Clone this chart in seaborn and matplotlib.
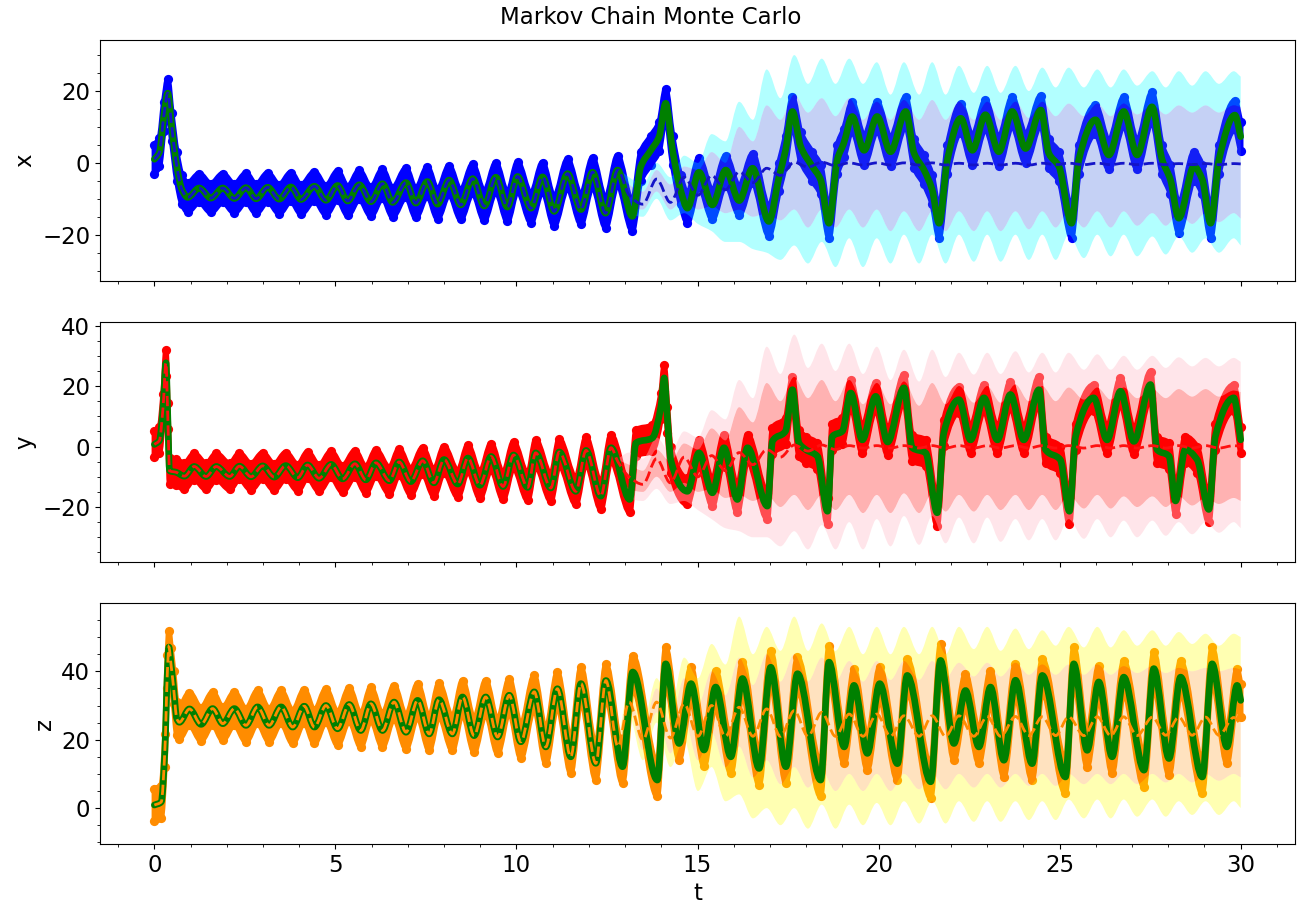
import numpy as np
import matplotlib
matplotlib.use("Agg")
import matplotlib.pyplot as plt
from matplotlib.path import Path
from matplotlib.patches import PathPatch
from matplotlib.ticker import MultipleLocator
import seaborn as sns

# ---------------------------------------------------------------------------
# True trajectory (turning points of each component)
# ---------------------------------------------------------------------------
t_x = [0.0, 0.14, 0.26, 0.37, 0.48, 0.62, 0.76, 0.92, 1.24, 1.56, 1.89, 2.21,
       2.53, 2.81, 3.13, 3.45, 3.77, 4.05, 4.42, 4.74, 5.06, 5.34, 5.66, 5.98,
       6.30, 6.58, 6.95, 7.22, 7.54, 7.82, 8.14, 8.46, 8.79, 9.11, 9.43, 9.75,
       10.03, 10.40, 10.72, 11.04, 11.41, 11.78, 12.10, 12.46, 12.79, 13.20,
       13.43, 13.71, 13.94, 14.12, 14.31, 14.53, 14.72, 15.04, 15.41, 15.78,
       16.15, 16.52, 16.97, 17.25, 17.43, 17.62, 17.85, 18.17, 18.40, 18.63,
       18.86, 19.04, 19.27, 19.60, 19.96, 20.33, 20.75, 20.98, 21.25, 21.48,
       21.67, 21.90, 22.27, 22.59, 22.95, 23.32, 23.69, 24.06, 24.48, 24.70,
       24.98, 25.33, 25.53, 25.99, 26.36, 26.77, 27.14, 27.55, 27.83, 28.06,
       28.29, 28.71, 28.94, 29.17, 29.40, 29.84, 30.0]
x_true = [1.0, 3.0, 13.0, 19.4, 10.0, -1.0, -7.4, -9.6, -7.0, -9.8, -7.0, -9.9,
          -6.9, -10.0, -6.8, -10.1, -6.7, -10.2, -6.5, -10.4, -6.3, -10.6, -6.1,
          -10.8, -5.8, -11.0, -5.5, -11.2, -5.2, -11.5, -4.8, -11.7, -4.4, -12.0,
          -4.0, -12.3, -3.8, -12.6, -3.9, -13.5, -3.0, -13.0, -2.6, -14.0, -2.0,
          -14.9, -1.1, 3.5, 7.3, 16.6, 3.5, -7.5, -12.6, -2.6, -11.7, -2.0, -10.5,
          -1.5, -16.3, -3.9, 3.5, 14.3, 4.5, -1.0, -4.7, -16.8, 0.9, 5.5, 12.9,
          3.5, 12.9, 3.1, 14.3, 2.7, -1.9, -7.5, -16.8, 0.9, 12.4, 3.5, 13.4, 3.1,
          14.3, 4.0, 14.7, 2.7, -1.0, -16.8, 0.9, 12.0, 2.2, 14.3, 2.2, 15.6, 0.9,
          -4.7, -15.4, -1.0, -4.7, -16.8, 0.9, 13.3, 7.3]

t_y = [0.0, 0.14, 0.24, 0.32, 0.37, 0.42, 0.60, 0.83, 1.10, 1.43, 1.71, 2.08,
       2.35, 2.67, 2.99, 3.31, 3.63, 3.96, 4.23, 4.55, 4.88, 5.20, 5.54, 5.84,
       6.12, 6.49, 6.76, 7.08, 7.41, 7.72, 8.00, 8.38, 8.66, 8.99, 9.30, 9.63,
       9.92, 10.31, 10.53, 10.95, 11.18, 11.64, 11.92, 12.33, 12.61, 13.13,
       13.30, 13.75, 13.99, 14.08, 14.17, 14.26, 14.72, 15.04, 15.41, 15.73,
       16.10, 16.38, 16.93, 17.07, 17.43, 17.62, 17.80, 17.99, 18.31, 18.59,
       18.72, 19.00, 19.23, 19.55, 19.92, 20.25, 20.70, 20.93, 21.30, 21.62,
       21.80, 22.22, 22.54, 22.91, 23.28, 23.64, 24.01, 24.43, 24.61, 25.02,
       25.27, 25.44, 25.94, 26.31, 26.68, 27.05, 27.51, 27.69, 28.02, 28.20,
       28.47, 28.80, 29.12, 29.30, 29.81, 30.0]
y_true = [0.7, 2.0, 13.0, 27.7, 10.0, -8.0, -8.5, -9.8, -6.6, -9.9, -6.6, -9.9,
          -6.5, -10.0, -6.4, -10.1, -6.3, -10.3, -6.1, -10.5, -5.9, -10.7, -5.7,
          -11.0, -5.4, -11.3, -5.1, -11.6, -4.7, -12.0, -4.3, -12.4, -3.8, -12.8,
          -3.3, -13.2, -2.8, -13.5, -2.1, -13.7, -1.8, -14.8, -1.3, -16.4, -0.4,
          -17.5, 1.2, 2.8, 13.3, 22.7, 8.9, -4.4, -14.8, -2.1, -15.3, -0.4, -17.5,
          -0.4, -19.7, 1.8, 5.1, 18.8, 1.2, -1.0, -3.2, -21.4, 3.3, 5.1, 17.7,
          2.2, 16.6, 1.5, 19.4, -0.4, -2.1, -21.9, 4.4, 15.5, 2.2, 16.1, 2.2,
          17.2, 2.2, 18.8, -1.0, -4.4, -21.4, 3.3, 16.1, 2.2, 18.3, 1.7, 20.5,
          -1.0, -3.2, -18.0, -1.0, -4.4, -20.8, 3.3, 16.1, 2.2]

t_z = [0.0, 0.19, 0.29, 0.36, 0.40, 0.46, 0.53, 0.62, 0.69, 0.97, 1.29, 1.61,
       1.89, 2.21, 2.53, 2.85, 3.17, 3.50, 3.82, 4.14, 4.42, 4.74, 5.06, 5.38,
       5.70, 5.98, 6.30, 6.62, 6.95, 7.27, 7.59, 7.86, 8.23, 8.51, 8.83, 9.15,
       9.48, 9.80, 10.12, 10.49, 10.81, 11.13, 11.50, 11.78, 12.19, 12.47,
       12.93, 13.21, 13.89, 14.12, 14.49, 14.82, 15.18, 15.50, 15.92, 16.24,
       16.70, 17.02, 17.44, 17.76, 18.40, 18.63, 19.05, 19.32, 19.69, 20.03,
       20.52, 20.79, 21.44, 21.71, 22.08, 22.40, 22.77, 23.09, 23.46, 23.78,
       24.24, 24.52, 25.16, 25.39, 25.76, 26.08, 26.45, 26.77, 27.33, 27.60,
       28.02, 28.34, 28.94, 29.21, 29.62, 29.90, 30.0]
z_true = [0.9, 1.8, 16.9, 40.0, 47.1, 42.0, 35.3, 26.1, 25.1, 29.0, 24.5, 29.1,
          24.7, 29.1, 24.2, 29.6, 24.2, 29.6, 23.7, 29.8, 23.7, 30.0, 23.2, 30.3,
          22.7, 30.5, 22.7, 31.0, 22.2, 31.5, 21.7, 31.7, 21.7, 32.5, 21.2, 32.5,
          20.8, 33.0, 19.4, 34.0, 17.9, 34.9, 15.0, 36.4, 13.1, 37.3, 12.1, 39.8,
          8.2, 42.2, 18.9, 36.4, 17.0, 35.4, 15.0, 37.9, 11.6, 41.2, 12.1, 39.3,
          8.2, 42.7, 17.9, 35.9, 16.0, 36.4, 13.0, 38.8, 7.7, 43.2, 18.9, 34.4,
          17.9, 35.4, 14.0, 37.4, 13.0, 38.8, 9.1, 42.2, 16.9, 36.9, 15.0, 38.3,
          11.1, 40.8, 14.5, 38.3, 9.1, 42.2, 17.9, 35.9, 31.5]

# Spread of the noisy observations around the true path
obs_halfwidth_x = 4.0
obs_halfwidth_y = 4.3
obs_halfwidth_z = 4.8

# ---------------------------------------------------------------------------
# Posterior forecast: mean and credible bands after the assimilation window
# ---------------------------------------------------------------------------
t_split = 12.75
t_band = [12.80, 13.11, 13.49, 13.87, 14.25, 14.63, 15.01, 15.39, 15.77, 16.15,
          16.53, 16.91, 17.29, 17.67, 18.05, 18.43, 18.81, 19.19, 19.57, 19.95,
          20.33, 20.70, 21.12, 21.48, 21.85, 22.22, 22.63, 23.00, 23.37, 23.78,
          24.15, 24.52, 24.89, 25.25, 25.67, 26.04, 26.41, 26.77, 27.14, 27.56,
          27.93, 28.29, 28.66, 29.03, 29.40, 29.81, 30.00]

x_mean = [-2.0, -9.0, -11.5, -4.5, -11.0, -4.0, -9.0, -3.5, -7.5, -2.5, -5.5,
          -1.5, -3.5, 0.2, -1.2, 0.2, -0.8, 0.0, -0.6, 0.0, -0.6, 0.0, -0.6,
          0.0, -0.6, -0.1, -0.6, -0.1, -0.6, -0.1, -0.6, -0.1, -0.5, -0.1, -0.5,
          -0.1, -0.5, -0.1, -0.5, -0.1, -0.5, -0.2, -0.5, -0.2, -0.5, -0.2, -0.3]
x_outer_hi = [-1.5, -4, -6, 0, -4, 2, 0, 8, 6, 17, 12, 26, 18, 30, 22, 29, 22,
              29, 22, 28, 19, 28, 19, 28, 19, 27, 19.5, 27, 19.5, 27, 20, 26.5,
              21, 26.5, 21, 26, 21, 26, 21.5, 25.5, 21, 25.5, 21.5, 25.5, 22,
              25.5, 24]
x_inner_hi = [-1.8, -6, -8, -2, -6, -1, -2, 3, 0, 10, 6, 16, 12, 19, 14, 18, 13,
              18, 12, 17, 12, 17.5, 12, 17.5, 12, 17, 12, 17, 12, 17, 12.5, 17,
              13, 16.5, 13, 16.5, 13, 16.5, 13.5, 16, 13.5, 16, 14, 16, 14, 16,
              15.5]
x_inner_lo = [-2.5, -12, -13, -8, -13, -10, -13, -12, -14, -13, -15, -14, -16,
              -13, -18, -13, -18, -13, -18, -13, -19, -13.5, -19, -13.5, -19,
              -13.5, -19, -13.5, -19, -13.5, -18.5, -13.5, -18, -13.5, -18,
              -13.5, -18, -13.5, -17.5, -14, -17.5, -14, -17, -14, -16.5, -14,
              -15.5]
x_outer_lo = [-3.0, -14, -15, -10, -16, -14, -17, -19, -22, -22, -24, -25, -27,
              -23, -28, -22, -29, -21, -29, -21, -28, -20, -28, -20, -28, -20,
              -27.5, -20, -27.5, -20, -27, -20, -27, -20, -26.5, -20, -26, -20,
              -26, -20.5, -25.5, -20.5, -25, -21, -25, -21, -23]

y_mean = [-5.0, -10.0, -12.5, -4.0, -12.0, -3.5, -10.0, -3.0, -8.0, -2.0, -6.0,
          -1.0, -3.5, 0.5, -1.5, 0.5, -1.0, 0.3, -0.5, 0.3, -0.5, 0.3, -0.5,
          0.3, -0.5, 0.3, -0.5, 0.3, -0.5, 0.3, -0.5, 0.3, -0.5, 0.3, -0.5, 0.3,
          -0.5, 0.3, -0.5, 0.3, -0.5, 0.3, -0.5, 0.3, -0.5, 0.3, 0.0]
y_outer_hi = [-4, -2, -4, 3, -2, 5, 3, 12, 9, 22, 16, 33, 24, 37, 26, 34, 25,
              34, 24, 33, 22, 32, 21.5, 32, 23, 31, 23.8, 31, 24, 31.5, 24.5, 31,
              24.5, 31, 25.4, 30.5, 25.4, 30, 25.4, 30, 26, 29.5, 26.5, 29.3,
              26.5, 29.3, 28]
y_inner_hi = [-4.5, -6, -8, -1, -5, 1, -1, 6, 2, 13, 8, 21, 15, 23, 16, 22, 15,
              22, 14, 21, 14, 21.5, 13.5, 21, 14, 20, 14.5, 20, 14.5, 20.5, 15,
              20, 15, 19.5, 15.5, 19.5, 15.5, 19.5, 16, 19, 16, 19, 16.5, 19,
              16.5, 18.5, 18]
y_inner_lo = [-5.5, -14, -15, -10, -15, -12, -15, -14, -17, -16, -18, -16, -20,
              -16, -21, -16, -21, -16, -22, -16, -22, -15.5, -22, -15.5, -21.5,
              -16, -21.5, -16, -21, -16, -21, -16, -21, -16, -20.5, -16, -20.5,
              -16.5, -20, -16.5, -20, -16.5, -19.5, -17, -19, -17, -18]
y_outer_lo = [-6, -17, -18, -14, -19, -18, -21, -24, -27, -28, -30, -30, -33,
              -28, -34, -26, -34, -25, -34, -24, -33, -23, -32.5, -23, -32,
              -23.5, -32, -23.5, -31.5, -24, -31, -24, -31, -24, -30.5, -24, -30,
              -24.5, -30, -24.5, -29.5, -25, -29, -25, -28.5, -25, -27]

z_mean = [18.0, 31.0, 20.0, 31.0, 20.5, 30.5, 21.0, 30.0, 21.0, 29.5, 21.0,
          29.0, 21.0, 28.5, 21.0, 28.0, 21.0, 27.5, 21.0, 27.5, 21.0, 27.0, 21.0,
          27.0, 21.0, 27.0, 21.0, 26.8, 21.0, 26.8, 21.2, 26.7, 21.2, 26.7, 21.2,
          26.7, 21.2, 26.7, 21.2, 26.6, 21.3, 26.6, 21.3, 26.6, 21.3, 26.5, 24.5]
z_outer_hi = [19, 35, 25, 38, 29, 44, 38, 48, 42, 56, 45, 53, 46, 56, 46, 54,
              46, 53, 45, 53, 45, 53, 45, 53, 45, 53, 46.5, 53, 46, 52.5, 46.5,
              52, 47.5, 53, 47, 53, 47, 52, 47.5, 52, 47.5, 51.5, 48, 51, 47.5,
              51, 50]
z_inner_hi = [18.5, 33, 23, 35, 25, 38, 30, 40, 33, 44, 36, 45, 37, 45, 37, 44,
              37, 43, 37, 43, 37.5, 43, 37.5, 43, 38, 42.5, 38.5, 42.5, 38.5,
              42.5, 39, 42, 39, 42, 39, 42, 39, 41.5, 39.5, 41.5, 39.5, 41, 40,
              41, 40, 41, 40.5]
z_inner_lo = [17.5, 29, 17, 28, 16, 26, 14, 22, 12, 18, 9, 14, 7, 12, 6, 11, 5,
              10, 5, 10, 5, 10, 5.5, 10, 5.5, 10, 6, 10, 6, 10, 6.5, 10, 6.5, 10,
              7, 10, 7, 10, 7, 10, 7.5, 10, 7.5, 10, 8, 10, 9]
z_outer_lo = [17, 27, 14, 25, 12, 20, 5, 12, 2, 4, -3, 0, -5, 0, -6, 1, -6, 1,
              -5, 1.5, -5, 2, -4.5, 2, -4.5, 2, -4, 2, -4, 2, -3.5, 2, -3.5, 2.5,
              -3, 2.5, -3, 2.5, -2.5, 2.5, -2.5, 2, -2, 2, -2, 2, 0]

panels = [
    dict(label="x", t=t_x, v=x_true, w=obs_halfwidth_x, mean=x_mean,
         bands=(x_outer_hi, x_inner_hi, x_inner_lo, x_outer_lo),
         dot="#0000ff", outer=("cyan", 0.3), inner=("royalblue", 0.3),
         mean_color="#1414c8", ylim=(-32.8, 34.2)),
    dict(label="y", t=t_y, v=y_true, w=obs_halfwidth_y, mean=y_mean,
         bands=(y_outer_hi, y_inner_hi, y_inner_lo, y_outer_lo),
         dot="#ff0000", outer=("pink", 0.4), inner=("red", 0.3),
         mean_color="#ff1010", ylim=(-38.3, 41.3)),
    dict(label="z", t=t_z, v=z_true, w=obs_halfwidth_z, mean=z_mean,
         bands=(z_outer_hi, z_inner_hi, z_inner_lo, z_outer_lo),
         dot="darkorange", outer=("yellow", 0.3), inner=("darkorange", 0.25),
         mean_color="darkorange", ylim=(-10.5, 59.9)),
]


def smooth_segments(t, v):
    """Monotone cubic (Fritsch-Carlson) curve through the knots, expressed as
    Bezier path vertices/codes so matplotlib renders it smoothly."""
    t = np.asarray(t, float)
    v = np.asarray(v, float)
    h = np.diff(t)
    d = np.diff(v) / h
    m = np.zeros_like(v)
    m[0], m[-1] = d[0], d[-1]
    for i in range(1, len(v) - 1):
        if d[i - 1] * d[i] > 0:
            w1 = 2 * h[i] + h[i - 1]
            w2 = h[i] + 2 * h[i - 1]
            m[i] = (w1 + w2) / (w1 / d[i - 1] + w2 / d[i])
    verts = [(t[0], v[0])]
    codes = [Path.MOVETO]
    for i in range(len(v) - 1):
        verts += [(t[i] + h[i] / 3, v[i] + m[i] * h[i] / 3),
                  (t[i + 1] - h[i] / 3, v[i + 1] - m[i + 1] * h[i] / 3),
                  (t[i + 1], v[i + 1])]
        codes += [Path.CURVE4] * 3
    return verts, codes


def curve_path(t, v):
    verts, codes = smooth_segments(t, v)
    return Path(verts, codes)


def band_path(t, lo, hi):
    vu, cu = smooth_segments(t, hi)
    vl, cl = smooth_segments(np.asarray(t)[::-1], np.asarray(lo)[::-1])
    cl[0] = Path.LINETO
    verts = vu + vl + [vu[0]]
    codes = cu + cl + [Path.CLOSEPOLY]
    return Path(verts, codes)


FS = 16.5

fig, axes = plt.subplots(3, 1, sharex=True, figsize=(13.01, 9.09), dpi=100)
fig.subplots_adjust(left=0.0769, right=0.9954, top=0.956, bottom=0.0715,
                    hspace=0.17)

tb = np.asarray(t_band)
for ax, p in zip(axes, panels):
    t = np.asarray(p["t"], float)
    v = np.asarray(p["v"], float)
    w = p["w"]

    # observation cloud
    ax.add_patch(PathPatch(band_path(t, v - w, v + w), facecolor=p["dot"],
                           edgecolor=p["dot"], lw=4.0, joinstyle="round",
                           zorder=1))
    sns.scatterplot(x=np.r_[t, t], y=np.r_[v - w, v + w], color=p["dot"],
                    s=44, linewidth=0, ax=ax, zorder=1, legend=False)

    # credible bands (outer ring, inner band)
    o_hi, i_hi, i_lo, o_lo = (np.asarray(b, float) for b in p["bands"])
    oc, oa = p["outer"]
    ic, ia = p["inner"]
    ax.add_patch(PathPatch(band_path(tb, i_hi, o_hi), facecolor=oc, alpha=oa,
                           lw=0, zorder=2))
    ax.add_patch(PathPatch(band_path(tb, o_lo, i_lo), facecolor=oc, alpha=oa,
                           lw=0, zorder=2))
    ax.add_patch(PathPatch(band_path(tb, i_lo, i_hi), facecolor=ic, alpha=ia,
                           lw=0, zorder=2))

    # true path
    ax.add_patch(PathPatch(curve_path(t, v), fill=False, edgecolor="green",
                           lw=4.8, capstyle="round", joinstyle="round",
                           zorder=3))

    # posterior mean: follows the data inside the window, then forecasts
    keep = t < t_split
    mt = np.r_[t[keep], tb]
    mv = np.r_[v[keep], np.asarray(p["mean"], float)]
    ax.add_patch(PathPatch(curve_path(mt, mv), fill=False,
                           edgecolor=p["mean_color"], lw=2.0, linestyle="--",
                           zorder=4))

    ax.set_ylim(*p["ylim"])
    ax.set_xlim(-1.5, 31.5)
    ax.set_ylabel(p["label"], fontsize=FS)
    ax.set_xlabel("")
    ax.yaxis.set_major_locator(MultipleLocator(20))
    ax.yaxis.set_minor_locator(MultipleLocator(5))
    ax.xaxis.set_major_locator(MultipleLocator(5))
    ax.xaxis.set_minor_locator(MultipleLocator(1))
    ax.tick_params(labelsize=FS)

axes[-1].set_xlabel("t", fontsize=FS)
fig.suptitle("Markov Chain Monte Carlo", fontsize=16.5, y=0.993)

fig.savefig("out.png", dpi=100)
